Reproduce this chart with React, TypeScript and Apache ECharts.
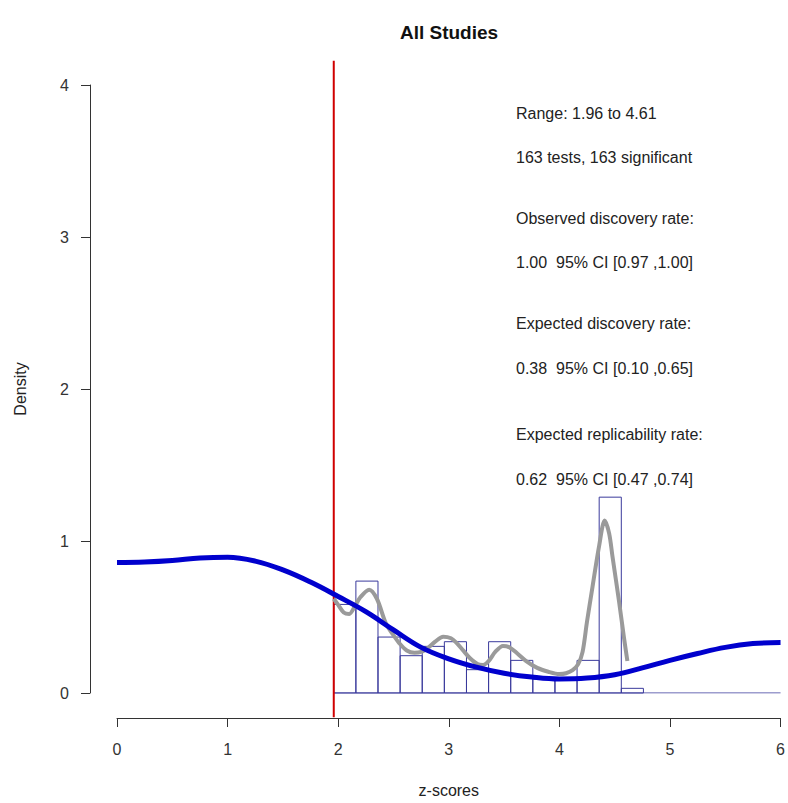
import React, { useEffect, useRef } from "react";
import * as echarts from "echarts";

// Histogram: bin edges start and width, bin counts (density = count / (163 * 0.2))
const binStart = 1.96;
const binWidth = 0.2;
const binCounts = [19, 24, 12, 8, 10, 11, 5, 11, 7, 3, 3, 7, 42, 1];
const totalTests = 163;

// Fitted model density (blue curve)
const blueZ = [0, 0.25, 0.5, 0.75, 1.0, 1.25, 1.5, 1.75, 2.0, 2.25, 2.5, 2.75, 3.0, 3.25, 3.5, 3.75, 4.0, 4.25, 4.5, 4.75, 5.0, 5.25, 5.5, 5.75, 6.0];
const blueD = [0.858, 0.862, 0.872, 0.888, 0.893, 0.868, 0.81, 0.73, 0.635, 0.535, 0.415, 0.3, 0.225, 0.17, 0.13, 0.105, 0.092, 0.098, 0.12, 0.165, 0.215, 0.26, 0.3, 0.325, 0.332];

// Kernel density of observed z-scores (gray curve)
const grayZ = [1.96, 2.0, 2.05, 2.1, 2.15, 2.2, 2.28, 2.35, 2.43, 2.5, 2.55, 2.62, 2.69, 2.75, 2.8, 2.88, 2.95, 3.02, 3.07, 3.13, 3.19, 3.26, 3.31, 3.36, 3.42, 3.49, 3.55, 3.62, 3.7, 3.8, 3.9, 4.0, 4.06, 4.12, 4.17, 4.21, 4.25, 4.3, 4.36, 4.41, 4.45, 4.48, 4.54, 4.585, 4.615];
const grayD = [0.62, 0.58, 0.53, 0.52, 0.57, 0.63, 0.68, 0.62, 0.46, 0.38, 0.33, 0.28, 0.265, 0.27, 0.29, 0.34, 0.37, 0.36, 0.33, 0.28, 0.23, 0.19, 0.185, 0.21, 0.27, 0.31, 0.3, 0.26, 0.21, 0.165, 0.14, 0.125, 0.13, 0.15, 0.19, 0.27, 0.47, 0.7, 0.97, 1.135, 1.05, 0.9, 0.6, 0.36, 0.21];

const criticalZ = 1.96;
const xRange = [0, 6];
const yRange = [0, 4];
const redLineRange = [-0.16, 4.16];

const titleText = "All Studies";
const xName = "z-scores";
const yName = "Density";
const annotations = [
  "Range: 1.96 to 4.61",
  "163 tests, 163 significant",
  "Observed discovery rate:",
  "1.00 \u00a095% CI [0.97 ,1.00]",
  "Expected discovery rate:",
  "0.38 \u00a095% CI [0.10 ,0.65]",
  "Expected replicability rate:",
  "0.62 \u00a095% CI [0.47 ,0.74]",
];
const annotationY = [113, 157, 218, 262, 323, 368, 434, 479];

const FONT = "'Liberation Sans', Arial, sans-serif";

export default function App() {
  const ref = useRef<HTMLDivElement>(null);
  useEffect(() => {
    if (!ref.current) return;
    const chart = echarts.init(ref.current, undefined, { renderer: "svg", width: 788, height: 803 });
    const bins = binCounts.map((c, i) => [
      binStart + i * binWidth,
      binStart + (i + 1) * binWidth,
      c / (totalTests * binWidth),
    ]);
    const option: any = {
      animation: false,
      backgroundColor: "#ffffff",
      textStyle: { fontFamily: FONT },
      grid: { left: 117, width: 665, top: 85, height: 614.5, containLabel: false },
      xAxis: {
        type: "value",
        min: xRange[0],
        max: xRange[1],
        interval: 1,
        offset: 25,
        name: xName,
        nameLocation: "middle",
        nameGap: 64,
        nameTextStyle: { fontSize: 16, color: "#222", fontFamily: FONT },
        axisLine: { show: true, onZero: false, lineStyle: { color: "#333", width: 1 } },
        axisTick: { show: true, length: 9, lineStyle: { color: "#333" } },
        axisLabel: { fontSize: 16, color: "#333", margin: 23, fontFamily: FONT },
        splitLine: { show: false },
      },
      yAxis: {
        type: "value",
        min: yRange[0],
        max: yRange[1],
        interval: 1,
        offset: 27,
        name: yName,
        nameLocation: "middle",
        nameGap: 62,
        nameRotate: 90,
        nameTextStyle: { fontSize: 16, color: "#222", fontFamily: FONT },
        axisLine: { show: true, onZero: false, lineStyle: { color: "#333", width: 1 } },
        axisTick: { show: true, length: 9, lineStyle: { color: "#333" } },
        axisLabel: { fontSize: 16, color: "#333", margin: 21, fontFamily: FONT },
        splitLine: { show: false },
      },
      series: [
        {
          type: "custom",
          z: 1,
          clip: false,
          data: bins,
          renderItem: (params: any, api: any) => {
            const p0 = api.coord([api.value(0), api.value(2)]);
            const p1 = api.coord([api.value(1), 0]);
            return {
              type: "rect",
              shape: { x: p0[0], y: p0[1], width: p1[0] - p0[0], height: p1[1] - p0[1] },
              style: { fill: "none", stroke: "#3a3a9c", lineWidth: 1 },
            };
          },
        },
        {
          type: "line",
          z: 1,
          data: [[criticalZ, 0], [xRange[1], 0]],
          symbol: "none",
          lineStyle: { color: "#3a3a9c", width: 1 },
        },
        {
          type: "line",
          z: 2,
          clip: false,
          data: [[criticalZ, redLineRange[0]], [criticalZ, redLineRange[1]]],
          symbol: "none",
          lineStyle: { color: "#d00000", width: 2 },
        },
        {
          type: "line",
          z: 3,
          data: grayZ.map((z, i) => [z, grayD[i]]),
          symbol: "none",
          smooth: 0.3,
          lineStyle: { color: "#9a9a9a", width: 4 },
        },
        {
          type: "line",
          z: 4,
          data: blueZ.map((z, i) => [z, blueD[i]]),
          symbol: "none",
          smooth: 0.4,
          lineStyle: { color: "#0000cd", width: 5 },
        },
      ],
      graphic: [
        {
          type: "text",
          style: { text: titleText, x: 449, y: 32, align: "center", verticalAlign: "middle", font: `bold 19px ${FONT}`, fill: "#111" },
        },
        ...annotations.map((t, i) => ({
          type: "text",
          style: { text: t, x: 516, y: annotationY[i], align: "left", verticalAlign: "middle", font: `16px ${FONT}`, fill: "#222" },
        })),
      ],
    };
    chart.setOption(option);
    return () => chart.dispose();
  }, []);
  return (
    <div
      ref={ref}
      style={{ position: "fixed", left: 0, top: 0, width: 788, height: 803, background: "#fff" }}
    />
  );
}
